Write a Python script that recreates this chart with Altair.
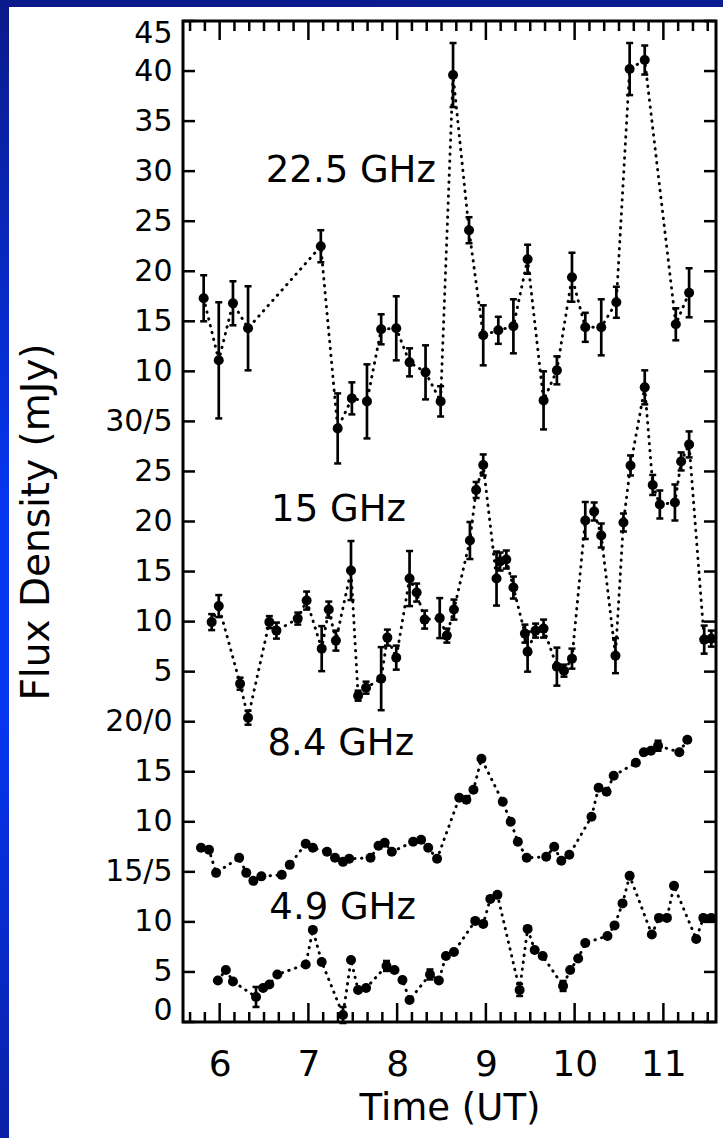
import altair as alt
import pandas as pd

# ---------------- data ----------------
series_names = ["22.5 GHz", "15 GHz", "8.4 GHz", "4.9 GHz"]
series_offsets = [55, 30, 10, 0]

t_225 = [5.82, 5.99, 6.15, 6.32, 7.14, 7.33, 7.49, 7.66, 7.82, 7.99, 8.14, 8.32, 8.49,
         8.63, 8.81, 8.97, 9.14, 9.31, 9.47, 9.65, 9.80, 9.97, 10.12, 10.30, 10.47,
         10.62, 10.79, 11.14, 11.29]
v_225 = [17.3, 11.1, 16.8, 14.3, 22.5, 4.3, 7.3, 7.0, 14.2, 14.3, 10.9, 9.9, 7.0,
         39.6, 24.1, 13.6, 14.1, 14.5, 21.2, 7.1, 10.1, 19.4, 14.4, 14.4, 16.9,
         40.2, 41.1, 14.7, 17.85]
e_225 = [2.3, 5.8, 2.2, 4.2, 1.6, 3.5, 1.6, 3.7, 1.5, 3.2, 1.4, 2.7, 1.5,
         3.2, 1.3, 3.0, 1.35, 2.7, 1.45, 2.9, 1.4, 2.45, 1.45, 2.8, 1.55,
         2.6, 1.45, 1.6, 2.45]

t_15 = [5.91, 5.99, 6.23, 6.32, 6.56, 6.64, 6.88, 6.98, 7.15, 7.23, 7.31, 7.48, 7.56,
        7.65, 7.82, 7.89, 7.99, 8.14, 8.22, 8.31, 8.48, 8.56, 8.64, 8.82, 8.89, 8.97,
        9.12, 9.16, 9.23, 9.31, 9.44, 9.47, 9.56, 9.65, 9.80, 9.88, 9.97, 10.12, 10.22,
        10.30, 10.46, 10.55, 10.63, 10.79, 10.88, 10.96, 11.13, 11.20, 11.29, 11.46, 11.54]
v_15 = [9.95, 11.55, 3.8, 0.4, 9.95, 9.1, 10.3, 12.1, 7.3, 11.2, 8.1, 15.1, 2.6,
        3.4, 4.3, 8.4, 6.4, 14.3, 12.9, 10.2, 10.35, 8.6, 11.2, 18.1, 23.15, 25.65,
        14.3, 16.0, 16.2, 13.4, 8.8, 7.0, 9.1, 9.3, 5.5, 5.1, 6.3, 20.1, 21.0,
        18.6, 6.6, 19.9, 25.6, 33.4, 23.65, 21.7, 21.9, 26.0, 27.7, 8.2, 8.3]
e_15 = [0.8, 1.1, 0.6, 0.7, 0.6, 0.8, 0.6, 0.9, 2.25, 0.8, 1.0, 2.95, 0.5,
        0.6, 3.15, 0.8, 1.2, 2.75, 0.9, 0.9, 2.0, 0.7, 1.0, 1.85, 0.8, 1.05,
        2.7, 0.9, 0.9, 1.1, 0.9, 2.0, 0.7, 0.9, 1.9, 0.6, 1.0, 1.85, 0.9,
        1.2, 1.75, 0.9, 1.0, 1.7, 1.0, 1.4, 1.8, 0.9, 1.3, 1.4, 0.8]

t_84 = [5.79, 5.88, 5.96, 6.22, 6.30, 6.38, 6.47, 6.70, 6.79, 6.97, 7.05, 7.21, 7.30,
        7.39, 7.46, 7.70, 7.79, 7.86, 7.94, 8.18, 8.27, 8.35, 8.45, 8.70, 8.78, 8.86,
        8.95, 9.19, 9.28, 9.36, 9.46, 9.68, 9.77, 9.85, 9.94, 10.19, 10.27, 10.36,
        10.44, 10.69, 10.78, 10.86, 10.94, 11.18, 11.27]
v_84 = [7.4, 7.2, 4.9, 6.4, 4.9, 4.1, 4.55, 4.7, 5.7, 7.8, 7.4, 7.0, 6.4,
        6.0, 6.3, 6.4, 7.6, 7.9, 7.0, 8.0, 8.2, 7.4, 6.3, 12.4, 12.2, 13.2,
        16.3, 12.0, 10.0, 8.0, 6.4, 6.5, 7.5, 6.1, 6.7, 10.5, 13.4, 13.0,
        14.6, 15.9, 16.95, 17.1, 17.6, 16.95, 18.2]
e_84 = [0, 0, 0, 0, 0, 0, 0, 0, 0, 0, 0, 0, 0,
        0, 0, 0, 0, 0, 0, 0, 0, 0, 0, 0, 0, 0,
        0, 0, 0, 0, 0, 0, 0, 0, 0, 0, 0, 0,
        0, 0, 0, 0, 0.5, 0, 0]

t_49 = [5.98, 6.07, 6.15, 6.41, 6.49, 6.56, 6.65, 6.97, 7.05, 7.15, 7.39, 7.48, 7.56,
        7.65, 7.88, 7.97, 8.06, 8.14, 8.37, 8.47, 8.55, 8.64, 8.88, 8.97, 9.05, 9.13,
        9.38, 9.47, 9.55, 9.64, 9.87, 9.95, 10.04, 10.12, 10.37, 10.45, 10.54, 10.62,
        10.87, 10.95, 11.04, 11.12, 11.37, 11.45, 11.54]
v_49 = [4.15, 5.2, 4.05, 2.5, 3.4, 3.75, 4.75, 5.75, 9.2, 6.0, 0.7, 6.2, 3.2,
        3.4, 5.6, 5.2, 4.2, 2.2, 4.75, 4.15, 6.6, 7.0, 10.1, 9.8, 12.3, 12.7,
        3.2, 9.3, 7.2, 6.6, 3.6, 5.2, 6.35, 7.9, 8.6, 9.65, 11.85, 14.6,
        8.75, 10.4, 10.4, 13.6, 8.3, 10.4, 10.4]
e_49 = [0, 0, 0, 1.0, 0, 0, 0, 0, 0, 0, 0.8, 0, 0,
        0, 0.5, 0, 0, 0, 0.5, 0, 0, 0, 0, 0, 0, 0,
        0.6, 0, 0, 0, 0.5, 0, 0, 0, 0, 0, 0, 0,
        0, 0, 0, 0, 0, 0, 0]

series_t = [t_225, t_15, t_84, t_49]
series_v = [v_225, v_15, v_84, v_49]
series_e = [e_225, e_15, e_84, e_49]

# frequency labels (time, value in the panel's own units)
label_t = [6.52, 6.58, 6.54, 6.56]
label_v = [30.0, 21.1, 17.8, 11.4]

# axis ticks
y_tick_values = [0, 5, 10, 15, 20, 25, 30, 35, 40, 45, 50, 55, 60, 65, 70, 75, 80, 85, 90, 95, 100]
y_tick_labels = ["0", "5", "10", "15/5", "10", "15", "20/0", "5", "10", "15", "20", "25",
                 "30/5", "10", "15", "20", "25", "30", "35", "40", "45"]
x_major = [6, 7, 8, 9, 10, 11]
x_minor = [5 + k / 6 for k in range(4, 40) if k % 6 != 0]

# ---------------- tables ----------------
rows = []
for name, off, ts, vs, es in zip(series_names, series_offsets, series_t, series_v, series_e):
    for t, v, e in zip(ts, vs, es):
        rows.append({"series": name, "t": t, "val": v, "err": e,
                     "g": v + off, "lo": v + off - e, "hi": v + off + e})
df = pd.DataFrame(rows)
df_err = df[df["err"] > 0]

df_lab = pd.DataFrame({"label": series_names, "t": label_t,
                       "g": [v + o for v, o in zip(label_v, series_offsets)]})
df_yt = pd.DataFrame({"g": y_tick_values})
df_xmaj = pd.DataFrame({"t": x_major})
df_xmin = pd.DataFrame({"t": x_minor})
df_one = pd.DataFrame({"a": [0]})

W, H = 533, 1001
FONT = "DejaVu Sans"

xs = alt.Scale(domain=[5.587, 11.593], nice=False, zero=False)
ys = alt.Scale(domain=[0, 100], nice=False, zero=False)

label_expr = "[" + ",".join("'%s'" % s for s in y_tick_labels) + "][round(datum.value/5)]"

x_axis = alt.Axis(values=x_major, format="d", title="Time (UT)", grid=False, ticks=False,
                  domain=False, labelFont=FONT, labelFontSize=36, labelPadding=25,
                  labelColor="black", titleFont=FONT, titleFontSize=37,
                  titleFontWeight="normal", titleColor="black", titlePadding=8)
y_axis = alt.Axis(values=y_tick_values, labelExpr=label_expr, title="Flux Density (mJy)",
                  grid=False, ticks=False, domain=False, labelFont=FONT, labelFontSize=30,
                  labelPadding=11, labelFlush=True, labelFlushOffset=3, labelColor="black",
                  titleFont=FONT, titleFontSize=39, titleFontWeight="normal",
                  titleColor="black", titleX=-147, titleBaseline="middle")


def XE(field="t"):
    return alt.X(field + ":Q", scale=xs, axis=x_axis, title="Time (UT)")


def YE(field="g"):
    return alt.Y(field + ":Q", scale=ys, axis=y_axis, title="Flux Density (mJy)")


line = alt.Chart(df).mark_line(color="black", strokeWidth=2.9, strokeDash=[0.5, 6.5],
                               strokeCap="round").encode(
    x=XE(), y=YE(), detail="series:N", order="t:Q")

bars = alt.Chart(df_err).mark_rule(color="black", strokeWidth=2.7).encode(
    x=XE(), y=YE("lo"), y2="hi:Q")
cap_lo = alt.Chart(df_err).mark_tick(color="black", orient="horizontal", size=7,
                                     thickness=2.5, opacity=1).encode(x=XE(), y=YE("lo"))
cap_hi = alt.Chart(df_err).mark_tick(color="black", orient="horizontal", size=7,
                                     thickness=2.5, opacity=1).encode(x=XE(), y=YE("hi"))

points = alt.Chart(df).mark_circle(color="black", size=100, opacity=1).encode(x=XE(), y=YE())

texts = alt.Chart(df_lab).mark_text(font=FONT, fontSize=37, align="left",
                                    baseline="middle", color="black").encode(
    x=XE(), y=YE(), text="label:N")

yt_left = alt.Chart(df_yt).mark_rule(color="black", strokeWidth=2.5).encode(
    y=YE(), x=alt.value(0), x2=alt.value(12))
yt_right = alt.Chart(df_yt).mark_rule(color="black", strokeWidth=2.5).encode(
    y=YE(), x=alt.value(W - 12), x2=alt.value(W))
xmaj_b = alt.Chart(df_xmaj).mark_rule(color="black", strokeWidth=2.5).encode(
    x=XE(), y=alt.value(H), y2=alt.value(H - 19))
xmaj_t = alt.Chart(df_xmaj).mark_rule(color="black", strokeWidth=2.5).encode(
    x=XE(), y=alt.value(0), y2=alt.value(19))
xmin_b = alt.Chart(df_xmin).mark_rule(color="black", strokeWidth=2.5).encode(
    x=XE(), y=alt.value(H), y2=alt.value(H - 10))
xmin_t = alt.Chart(df_xmin).mark_rule(color="black", strokeWidth=2.5).encode(
    x=XE(), y=alt.value(0), y2=alt.value(10))

left_grad = alt.Gradient(gradient="linear", x1=0, x2=0, y1=0, y2=1, stops=[
    alt.GradientStop(color="#0b1a8a", offset=0),
    alt.GradientStop(color="#0536f2", offset=0.45),
    alt.GradientStop(color="#0536f2", offset=0.62),
    alt.GradientStop(color="#0a20a6", offset=1),
])
top_grad = alt.Gradient(gradient="linear", x1=0, x2=1, y1=0, y2=0, stops=[
    alt.GradientStop(color="#0b1a8a", offset=0),
    alt.GradientStop(color="#0b1c94", offset=1),
])
strip_left = alt.Chart(df_one).mark_rect(fill=left_grad, strokeWidth=0).encode(
    x=alt.value(-183), x2=alt.value(-174), y=alt.value(-21), y2=alt.value(1117))
strip_top = alt.Chart(df_one).mark_rect(fill=top_grad, strokeWidth=0).encode(
    x=alt.value(-183), x2=alt.value(540), y=alt.value(-21), y2=alt.value(-14))

chart = alt.layer(
    line, bars, cap_lo, cap_hi, points, texts,
    yt_left, yt_right, xmaj_b, xmaj_t, xmin_b, xmin_t,
    strip_left, strip_top,
).properties(
    width=W, height=H,
    autosize=alt.AutoSizeParams(type="none"),
    padding={"left": 183, "top": 21, "right": 7, "bottom": 116},
    background="white",
).configure_view(stroke="black", strokeWidth=3)

chart.save("out.html", embed_options={"renderer": "svg", "actions": False})
